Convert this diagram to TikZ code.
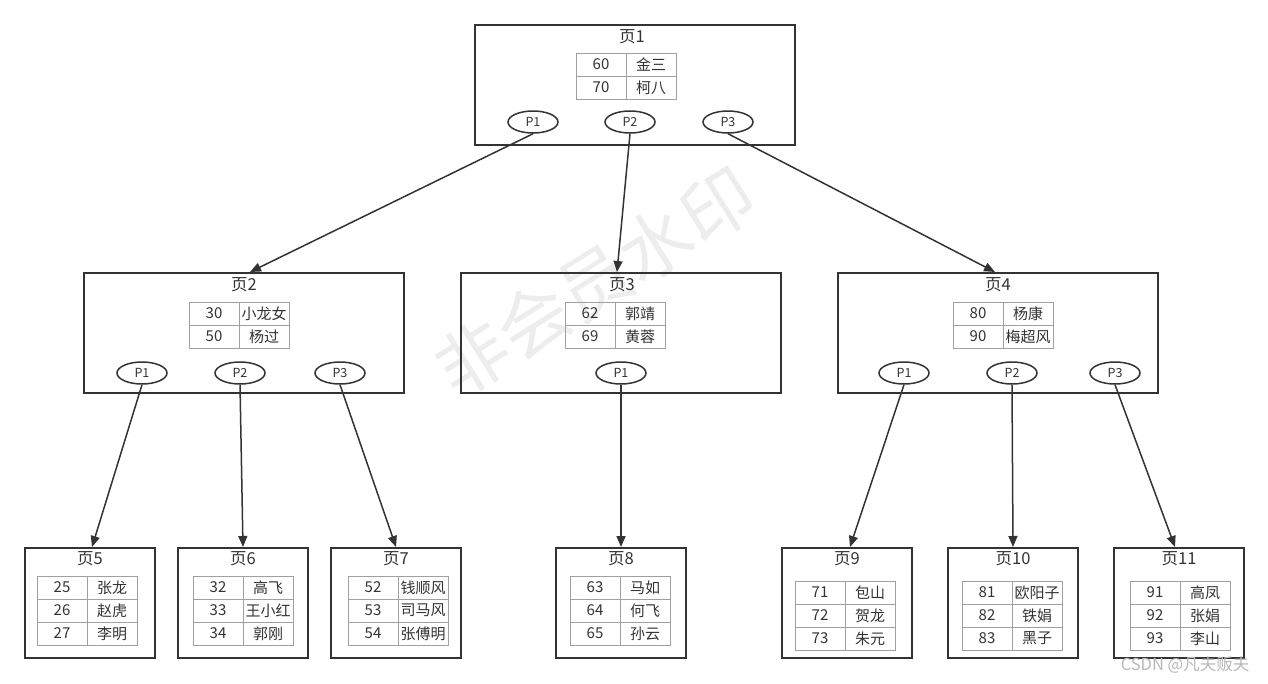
\documentclass[tikz,border=0pt]{standalone}
\usepackage{fontspec}
\setmainfont{Noto Sans CJK SC}
\usepackage{tikz}
\usetikzlibrary{shapes.geometric, arrows.meta, positioning}
\definecolor{ink}{HTML}{333333}
\definecolor{grid}{HTML}{A0A0A0}
\definecolor{wmgray}{HTML}{EDEDED}
\definecolor{credit}{HTML}{B8B8B8}

\begin{document}
\begin{tikzpicture}[
  x=1pt, y=-1pt,
  pagebox/.style={rectangle, draw=ink, line width=2pt},
  innerpage/.style={pagebox, minimum width=320pt, minimum height=120pt},
  leafpage/.style={pagebox, minimum width=130pt, minimum height=110pt},
  pagetitle/.style={inner sep=0pt, text=ink, font=\fontsize{16.5}{20}\selectfont},
  cell/.style={rectangle, draw=grid, line width=1pt, minimum width=50pt, minimum height=23pt,
               inner sep=0pt, outer sep=0pt, text=ink, font=\fontsize{15}{18}\selectfont},
  ptr/.style={ellipse, draw=ink, line width=1.5pt, minimum width=50pt, minimum height=22pt,
              inner sep=0pt, text=ink, font=\fontsize{12.5}{15}\selectfont},
  arrow/.style={-{Triangle[length=11pt, width=9pt]}, line width=1.5pt, draw=ink}
]
\useasboundingbox (0,0) rectangle (1268,683);

% watermark
\node[rotate=32, text=wmgray, font=\fontsize{72}{80}\selectfont] (wm) at (595,282) {非会员水印};

% root page
\node[innerpage] (pg1) at (635,85) {};
\node[pagetitle] (ttl1) at (632,37) {页1};
\foreach \k/\v [count=\i] in {60/金三, 70/柯八} {
  \node[cell] (t1k\i) at (601,{41.5+23*\i}) {\k};
  \node[cell, right=0pt of t1k\i] (t1v\i) {\v};
}
\node[ptr] (pg1p1) at (533,122) {P1};
\node[ptr] (pg1p2) at (630,122) {P2};
\node[ptr] (pg1p3) at (728,122) {P3};

% second level
\node[innerpage] (pg2) at (244,333) {};
\node[pagetitle] (ttl2) at (244,285) {页2};
\foreach \k/\v [count=\i] in {30/小龙女, 50/杨过} {
  \node[cell] (t2k\i) at (214,{290.5+23*\i}) {\k};
  \node[cell, right=0pt of t2k\i] (t2v\i) {\v};
}
\node[ptr] (pg2p1) at (142,373) {P1};
\node[ptr] (pg2p2) at (240,373) {P2};
\node[ptr] (pg2p3) at (340,373) {P3};

\node[innerpage] (pg3) at (621,333) {};
\node[pagetitle] (ttl3) at (622,285) {页3};
\foreach \k/\v [count=\i] in {62/郭靖, 69/黄蓉} {
  \node[cell] (t3k\i) at (590,{290.5+23*\i}) {\k};
  \node[cell, right=0pt of t3k\i] (t3v\i) {\v};
}
\node[ptr] (pg3p1) at (621,373) {P1};

\node[innerpage] (pg4) at (998,333) {};
\node[pagetitle] (ttl4) at (998,285) {页4};
\foreach \k/\v [count=\i] in {80/杨康, 90/梅超风} {
  \node[cell] (t4k\i) at (978,{290.5+23*\i}) {\k};
  \node[cell, right=0pt of t4k\i] (t4v\i) {\v};
}
\node[ptr] (pg4p1) at (904,373) {P1};
\node[ptr] (pg4p2) at (1012,373) {P2};
\node[ptr] (pg4p3) at (1115,373) {P3};

% leaf pages
\node[leafpage] (pg5) at (90,603) {};
\node[pagetitle] (ttl5) at (90,559) {页5};
\foreach \k/\v [count=\i] in {25/张龙, 26/赵虎, 27/李明} {
  \node[cell] (t5k\i) at (62,{564.5+23*\i}) {\k};
  \node[cell, right=0pt of t5k\i] (t5v\i) {\v};
}

\node[leafpage] (pg6) at (243,603) {};
\node[pagetitle] (ttl6) at (243,559) {页6};
\foreach \k/\v [count=\i] in {32/高飞, 33/王小红, 34/郭刚} {
  \node[cell] (t6k\i) at (218,{564.5+23*\i}) {\k};
  \node[cell, right=0pt of t6k\i] (t6v\i) {\v};
}

\node[leafpage] (pg7) at (396,603) {};
\node[pagetitle] (ttl7) at (396,559) {页7};
\foreach \k/\v [count=\i] in {52/钱顺风, 53/司马风, 54/张傅明} {
  \node[cell] (t7k\i) at (373,{564.5+23*\i}) {\k};
  \node[cell, right=0pt of t7k\i] (t7v\i) {\v};
}

\node[leafpage] (pg8) at (621,603) {};
\node[pagetitle] (ttl8) at (621,559) {页8};
\foreach \k/\v [count=\i] in {63/马如, 64/何飞, 65/孙云} {
  \node[cell] (t8k\i) at (595,{564.5+23*\i}) {\k};
  \node[cell, right=0pt of t8k\i] (t8v\i) {\v};
}

\node[leafpage] (pg9) at (847,603) {};
\node[pagetitle] (ttl9) at (847,559) {页9};
\foreach \k/\v [count=\i] in {71/包山, 72/贺龙, 73/朱元} {
  \node[cell] (t9k\i) at (820,{569.5+23*\i}) {\k};
  \node[cell, right=0pt of t9k\i] (t9v\i) {\v};
}

\node[leafpage] (pg10) at (1013,603) {};
\node[pagetitle] (ttl10) at (1013,559) {页10};
\foreach \k/\v [count=\i] in {81/欧阳子, 82/铁娟, 83/黑子} {
  \node[cell] (t10k\i) at (987,{569.5+23*\i}) {\k};
  \node[cell, right=0pt of t10k\i] (t10v\i) {\v};
}

\node[leafpage] (pg11) at (1179,603) {};
\node[pagetitle] (ttl11) at (1179,559) {页11};
\foreach \k/\v [count=\i] in {91/高凤, 92/张娟, 93/李山} {
  \node[cell] (t11k\i) at (1155,{569.5+23*\i}) {\k};
  \node[cell, right=0pt of t11k\i] (t11v\i) {\v};
}

% pointers
\draw[arrow] (pg1p1.south) -- ([xshift=6pt]pg2.north);
\draw[arrow] (pg1p2.south) -- ([xshift=-4pt]pg3.north);
\draw[arrow] (pg1p3.south) -- ([xshift=-3pt]pg4.north);
\draw[arrow] (pg2p1.south) -- ([xshift=2pt]pg5.north);
\draw[arrow] (pg2p2.south) -- (pg6.north);
\draw[arrow] (pg2p3.south) -- (pg7.north);
\draw[arrow] (pg3p1.south) -- (pg8.north);
\draw[arrow] (pg4p1.south) -- ([xshift=3pt]pg9.north);
\draw[arrow] (pg4p2.south) -- (pg10.north);
\draw[arrow] (pg4p3.south) -- ([xshift=-4pt]pg11.north);

\node[text=credit, font=\fontsize{16.5}{20}\selectfont] (csdn) at (1185,665) {CSDN @凡夫贩夫};

\end{tikzpicture}
\end{document}
